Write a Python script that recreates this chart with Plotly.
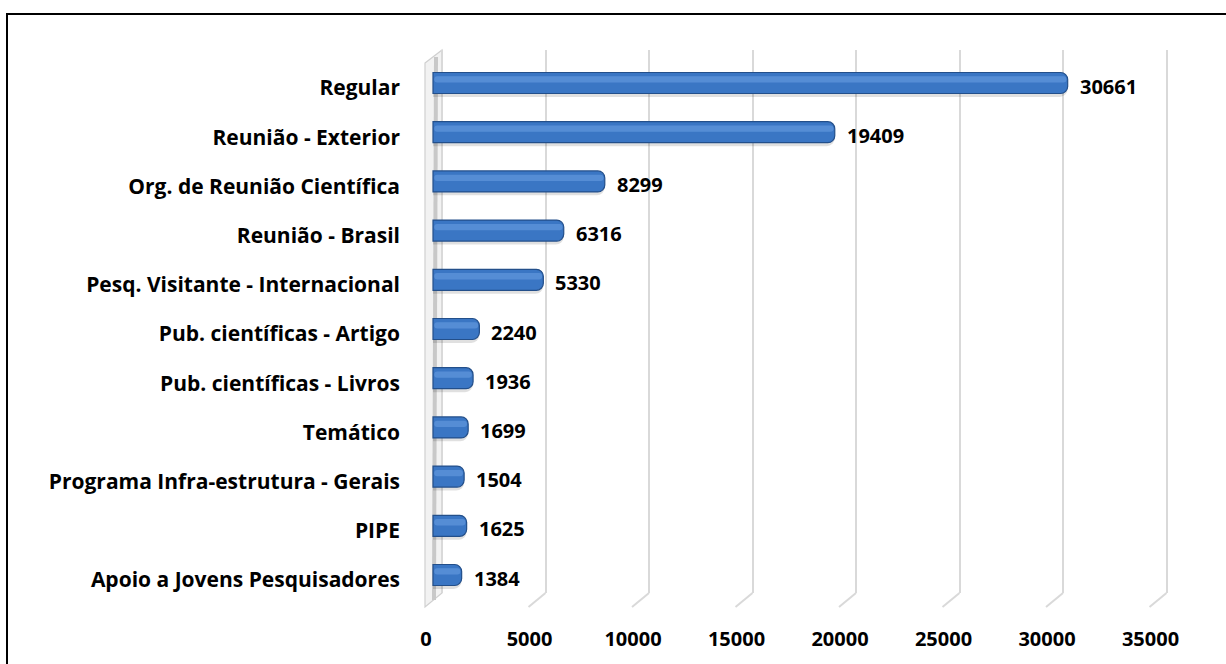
import plotly.graph_objects as go

# data (top to bottom)
categorias = ['Regular', 'Reunião - Exterior', 'Org. de Reunião Científica', 'Reunião - Brasil',
              'Pesq. Visitante - Internacional', 'Pub. científicas - Artigo', 'Pub. científicas - Livros',
              'Temático', 'Programa Infra-estrutura - Gerais', 'PIPE', 'Apoio a Jovens Pesquisadores']
valores = [30661, 19409, 8299, 6316, 5330, 2240, 1936, 1699, 1504, 1625, 1384]
ticks_x = [0, 5000, 10000, 15000, 20000, 25000, 30000, 35000]
ticks_txt = [str(t) for t in ticks_x]

W, H = 1226, 664
FONT = 'Open Sans'

# plot box in pixels
left, right = 425, 1180
top, bottom = 50, 593
px_per_unit = 103.5 / 5000
zero_bar = 433       # where bars start
zero_back = 442      # back wall gridline for 0
zero_label = 426     # front tick label for 0
first_c, last_c = 83, 575
step = (last_c - first_c) / (len(categorias) - 1)
label_drop = 5       # category labels sit a bit lower than the bars


def xr(zero_px):
    return [-(zero_px - left) / px_per_unit, (right - zero_px) / px_per_unit]


def yr(drop):
    n = len(categorias) - 1
    return [n + (bottom - last_c - drop) / step, -(first_c + drop - top) / step]


bar_w = 21 / step
idx = list(range(len(categorias)))

fig = go.Figure()
# soft shadow under bars
fig.add_trace(go.Bar(
    y=idx, x=valores, orientation='h', width=bar_w, offset=-bar_w / 2 + 0.07,
    marker=dict(color='rgba(0,0,0,0.12)', line=dict(width=0), cornerradius=8),
    hoverinfo='skip', showlegend=False))
fig.add_trace(go.Bar(
    y=idx, x=valores, orientation='h', width=bar_w, offset=-bar_w / 2,
    marker=dict(color='#3a76c4', line=dict(color='#234f8a', width=1.2), cornerradius=7),
    text=categorias, hovertemplate='%{text}: %{x}<extra></extra>', textposition='none',
    showlegend=False))
# highlight band
fig.add_trace(go.Bar(
    y=idx, x=[v - 120 for v in valores], base=60, orientation='h', width=bar_w * 0.3,
    offset=-bar_w / 2 + bar_w * 0.18,
    marker=dict(color='rgba(120,170,235,0.45)', line=dict(width=0), cornerradius=3),
    hoverinfo='skip', showlegend=False))
# invisible carriers so the label axes get drawn
fig.add_trace(go.Scatter(x=ticks_x, y=[0] * len(ticks_x), xaxis='x3', yaxis='y', mode='markers',
                         marker=dict(opacity=0), hoverinfo='skip', showlegend=False))
fig.add_trace(go.Scatter(x=[0] * len(idx), y=idx, xaxis='x', yaxis='y2', mode='markers',
                         marker=dict(opacity=0), hoverinfo='skip', showlegend=False))

for i, v in zip(idx, valores):
    fig.add_annotation(x=v, y=i, text=str(v), showarrow=False, xanchor='left', xshift=10,
                       yshift=-3, font=dict(family=FONT, size=20, color='black', weight='bold'))


def py_(p):
    return (bottom - p) / (bottom - top)


def px_(p):
    return (p - left) / (right - left)


shapes = []
# outer border
shapes.append(dict(type='rect', xref='paper', yref='paper',
                   x0=px_(7), x1=px_(W + 20), y0=py_(H + 20), y1=py_(14),
                   line=dict(color='black', width=2), layer='below'))
# left side wall
shapes.append(dict(type='path', xref='paper', yref='paper',
                   path=f'M {px_(425)},{py_(63)} L {px_(442)},{py_(50)} L {px_(442)},{py_(593)} '
                        f'L {px_(425)},{py_(607)} Z',
                   fillcolor='#f2f2f2', line=dict(color='#d0d0d0', width=1.2), layer='below'))
shapes.append(dict(type='line', xref='paper', yref='paper', x0=px_(434), x1=px_(436),
                   y0=py_(600), y1=py_(57), line=dict(color='#c8c8c8', width=4), layer='below'))
# floor diagonals for gridlines
for t in ticks_x[1:]:
    shapes.append(dict(type='line', xref='x2', yref='paper', xsizemode='pixel', xanchor=t,
                       x0=0, x1=-17, ysizemode='pixel', yanchor=0, y0=0, y1=-14,
                       line=dict(color='#d9d9d9', width=2), layer='below'))

lab_font = dict(family=FONT, size=20, color='black', weight='bold')
cat_font = dict(family=FONT, size=21, color='black', weight='bold')

fig.update_layout(
    width=W, height=H,
    margin=dict(l=left, r=W - right, t=top, b=H - bottom),
    paper_bgcolor='white', plot_bgcolor='white',
    barmode='overlay',
    shapes=shapes,
    font=lab_font,
    # bars
    xaxis=dict(range=xr(zero_bar), showgrid=False, zeroline=False, showline=False,
               showticklabels=False, ticks=''),
    yaxis=dict(range=yr(0), showgrid=False, zeroline=False, showline=False,
               showticklabels=False, ticks=''),
    # back-wall gridlines
    xaxis2=dict(range=xr(zero_back), overlaying='x', anchor='y', tickvals=ticks_x, showgrid=True,
                gridcolor='#d9d9d9', gridwidth=2, showticklabels=False, zeroline=False,
                showline=False, ticks=''),
    # front tick labels
    xaxis3=dict(range=xr(zero_label), overlaying='x', anchor='y', side='bottom', tickvals=ticks_x,
                ticktext=ticks_txt, showgrid=False, zeroline=False, showline=False, ticks='',
                ticklabelstandoff=32, tickfont=lab_font),
    # category labels
    yaxis2=dict(range=yr(label_drop), overlaying='y', anchor='x', side='left', tickvals=idx,
                ticktext=categorias, showgrid=False, zeroline=False, showline=False, ticks='',
                ticklabelstandoff=24, tickfont=cat_font),
)

fig.write_html('out.html', config={'displayModeBar': False},
               post_script="document.body.style.margin='0';")
